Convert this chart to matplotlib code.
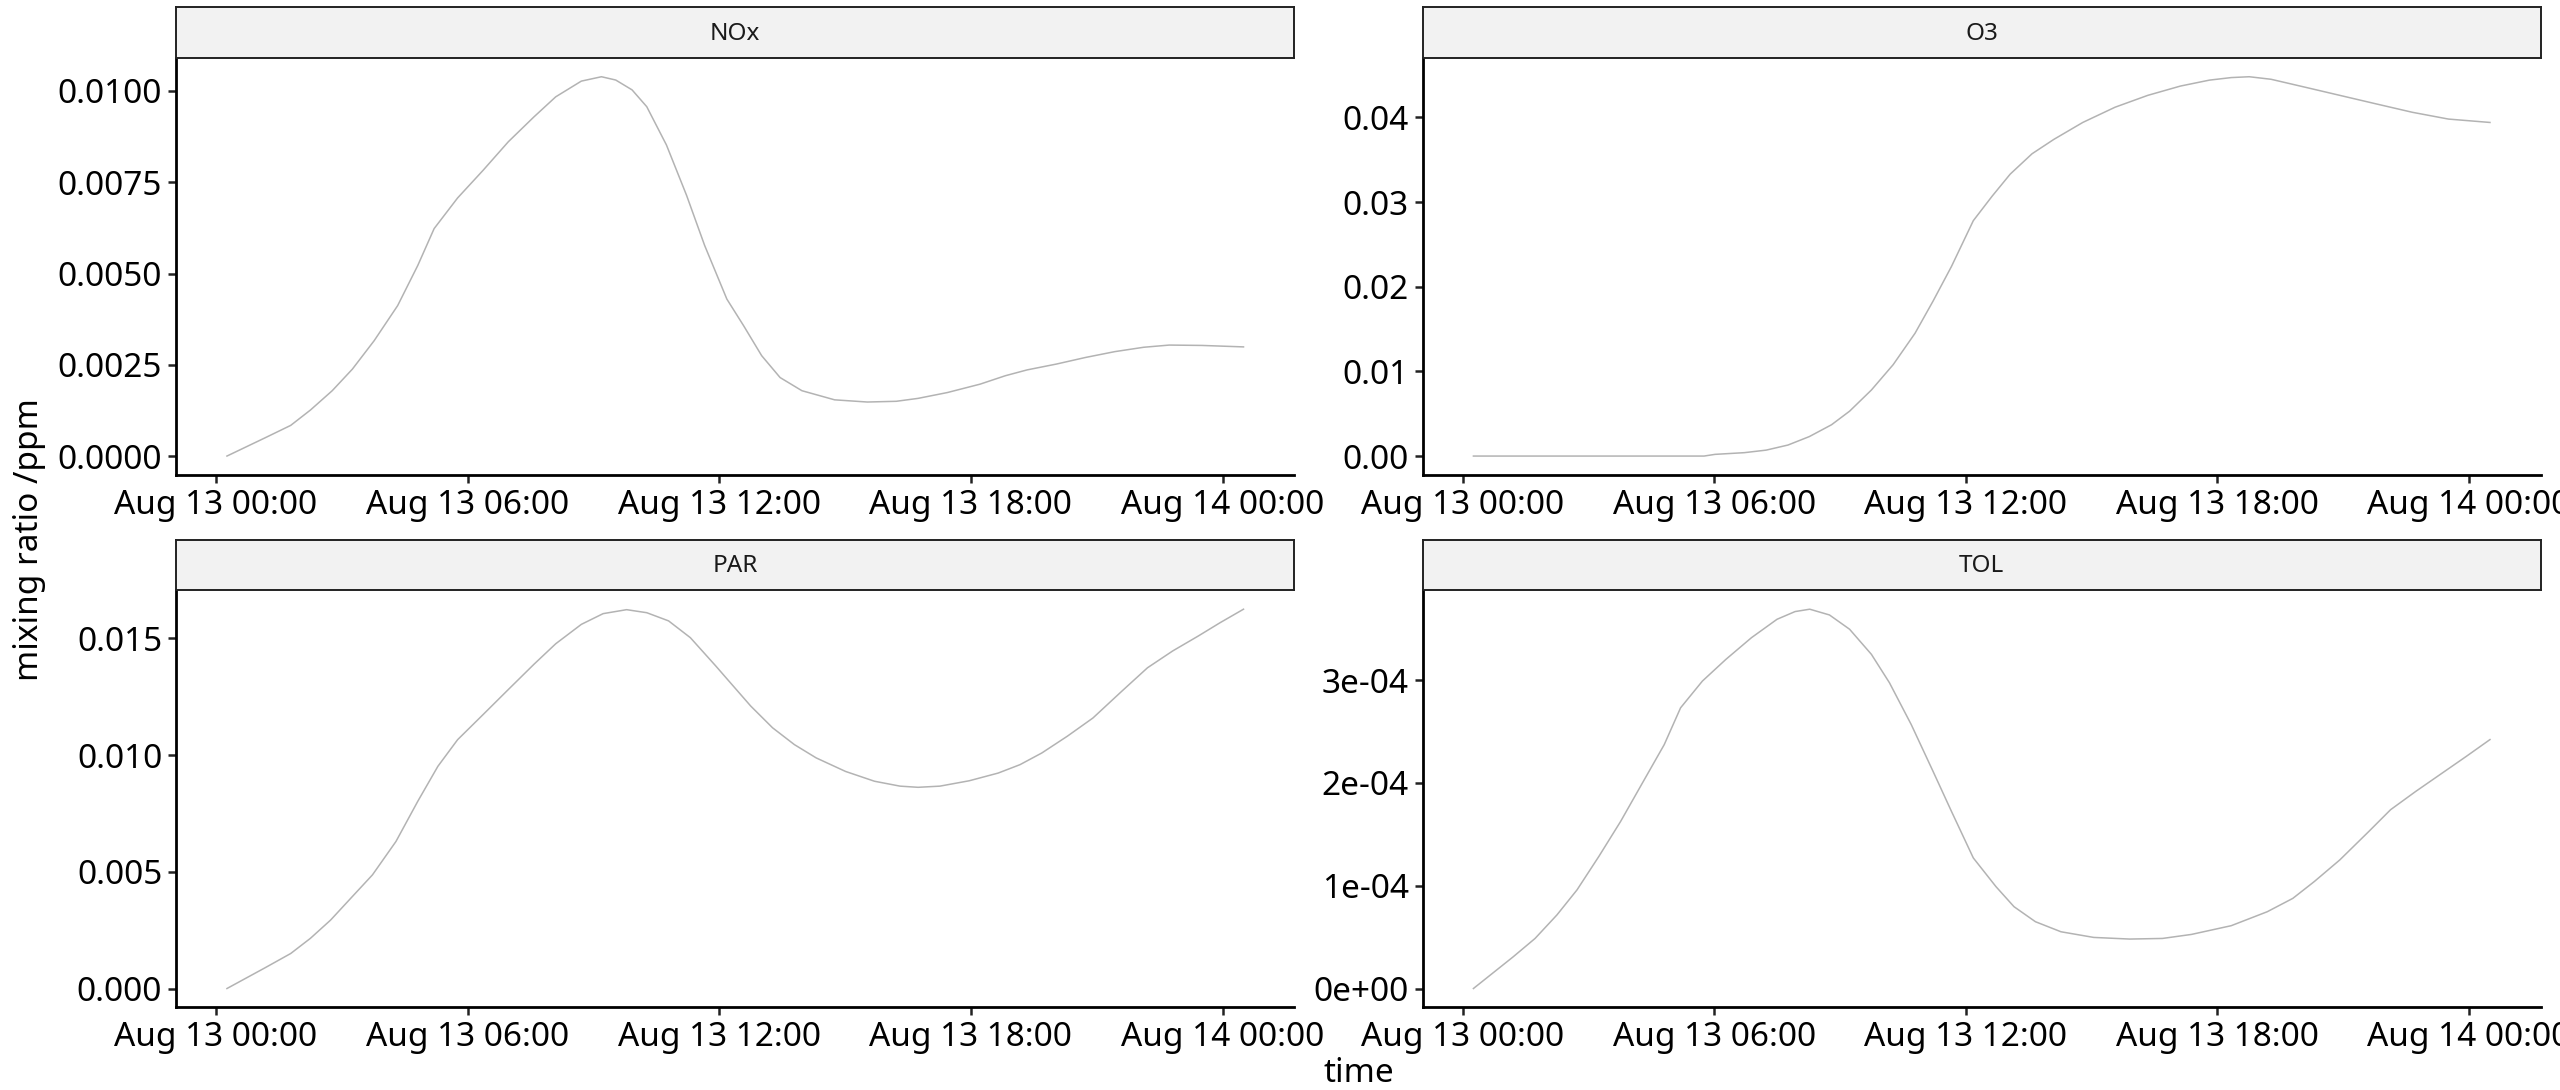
import numpy as np
import pandas as pd
import matplotlib
matplotlib.use("Agg")
import matplotlib.pyplot as plt
import matplotlib.dates as mdates
from matplotlib.ticker import FixedLocator, FixedFormatter

plt.rcParams['font.family'] = ['Noto Sans', 'DejaVu Sans']

# -----------------------------------------------------------
#  data (hours after Aug 13 00:00, mixing ratio in ppm)
# -----------------------------------------------------------
nox_hours = [0.26, 1.17, 1.78, 2.25, 2.77, 3.25, 3.77, 4.33, 4.81, 5.20, 5.76, 6.37, 6.97,
             7.58, 8.10, 8.71, 9.19, 9.53, 9.92, 10.27, 10.74, 11.22, 11.65, 12.18, 12.58,
             13.01, 13.45, 13.97, 14.75, 15.53, 16.22, 16.74, 17.44, 18.22, 18.82, 19.34,
             20.04, 20.73, 21.43, 22.12, 22.73, 23.51, 24.50]
nox_vals = [0.0, 0.00050, 0.00084, 0.00126, 0.00179, 0.00238, 0.00316, 0.00412, 0.00522,
            0.00623, 0.00707, 0.00783, 0.00861, 0.00929, 0.00984, 0.01027, 0.01039, 0.01030,
            0.01003, 0.00957, 0.00852, 0.00714, 0.00577, 0.00430, 0.00357, 0.00275, 0.00215,
            0.00179, 0.00154, 0.00148, 0.00150, 0.00158, 0.00174, 0.00197, 0.00220, 0.00236,
            0.00252, 0.00270, 0.00286, 0.00298, 0.00304, 0.00303, 0.00299]

o3_hours = [0.26, 3.25, 5.76, 6.02, 6.72, 7.24, 7.76, 8.27, 8.80, 9.23, 9.75, 10.27, 10.79,
            11.22, 11.66, 12.18, 12.63, 13.06, 13.58, 14.10, 14.79, 15.56, 16.34, 17.12,
            17.81, 18.33, 18.76, 19.28, 20.06, 20.92, 21.78, 22.65, 23.51, 24.50]
o3_vals = [0.0, 0.0, 0.0, 0.0002, 0.0004, 0.0007, 0.0013, 0.0023, 0.0037, 0.0053, 0.0078,
           0.0108, 0.0145, 0.0183, 0.0224, 0.0278, 0.0307, 0.0333, 0.0357, 0.0374, 0.0394,
           0.0412, 0.0426, 0.0437, 0.0444, 0.0447, 0.0448, 0.0445, 0.0436, 0.0426, 0.0416,
           0.0406, 0.0398, 0.0394]

par_hours = [0.26, 1.17, 1.78, 2.25, 2.73, 3.25, 3.73, 4.29, 4.81, 5.29, 5.76, 6.37, 6.97,
             7.58, 8.10, 8.71, 9.23, 9.79, 10.27, 10.79, 11.31, 11.92, 12.23, 12.75, 13.27,
             13.79, 14.31, 15.01, 15.70, 16.31, 16.74, 17.26, 17.96, 18.65, 19.17, 19.69,
             20.30, 20.91, 21.60, 22.21, 22.81, 23.42, 23.94, 24.50]
par_vals = [0.0, 0.00089, 0.00150, 0.00215, 0.00293, 0.00394, 0.00487, 0.00630, 0.00802,
            0.00952, 0.01066, 0.01174, 0.01281, 0.01389, 0.01477, 0.01560, 0.01606, 0.01623,
            0.01610, 0.01575, 0.01503, 0.01381, 0.01317, 0.01210, 0.01117, 0.01045, 0.00988,
            0.00930, 0.00888, 0.00867, 0.00862, 0.00867, 0.00890, 0.00923, 0.00959, 0.01009,
            0.01081, 0.01159, 0.01274, 0.01374, 0.01446, 0.01510, 0.01567, 0.01625]

tol_hours = [0.26, 1.21, 1.73, 2.25, 2.73, 3.25, 3.77, 4.29, 4.81, 5.20, 5.72, 6.28, 6.89,
             7.50, 7.93, 8.28, 8.75, 9.23, 9.75, 10.18, 10.70, 11.22, 11.66, 12.18, 12.72,
             13.15, 13.66, 14.27, 15.05, 15.91, 16.69, 17.38, 18.33, 19.19, 19.80, 20.31,
             20.92, 21.61, 22.13, 22.73, 23.42, 23.94, 24.50]
tol_vals = [0.0, 0.309e-4, 0.487e-4, 0.715e-4, 0.959e-4, 1.284e-4, 1.625e-4, 1.999e-4,
            2.372e-4, 2.730e-4, 2.990e-4, 3.201e-4, 3.412e-4, 3.591e-4, 3.666e-4, 3.689e-4,
            3.633e-4, 3.494e-4, 3.250e-4, 2.974e-4, 2.567e-4, 2.112e-4, 1.722e-4, 1.270e-4,
            0.991e-4, 0.796e-4, 0.650e-4, 0.552e-4, 0.497e-4, 0.481e-4, 0.487e-4, 0.526e-4,
            0.611e-4, 0.747e-4, 0.877e-4, 1.040e-4, 1.251e-4, 1.527e-4, 1.739e-4, 1.917e-4,
            2.112e-4, 2.259e-4, 2.421e-4]

panel_names = ["NOx", "O3", "PAR", "TOL"]
panel_hours = [nox_hours, o3_hours, par_hours, tol_hours]
panel_vals = [nox_vals, o3_vals, par_vals, tol_vals]

ytick_vals = [[0.0, 0.0025, 0.005, 0.0075, 0.01],
              [0.0, 0.01, 0.02, 0.03, 0.04],
              [0.0, 0.005, 0.01, 0.015],
              [0.0, 1e-4, 2e-4, 3e-4]]
ytick_labels = [["0.0000", "0.0025", "0.0050", "0.0075", "0.0100"],
                ["0.00", "0.01", "0.02", "0.03", "0.04"],
                ["0.000", "0.005", "0.010", "0.015"],
                ["0e+00", "1e-04", "2e-04", "3e-04"]]

start = pd.Timestamp("2024-08-13 00:00")

# -----------------------------------------------------------
#  figure
# -----------------------------------------------------------
fig = plt.figure(figsize=(25.6, 10.9), dpi=100)

# panel positions in figure fraction (left, bottom, width, height)
lefts = [0.0688, 0.5557, 0.0688, 0.5557]
bottoms = [0.5642, 0.5642, 0.0757, 0.0757]
width = 0.4368
height = 0.3828
strip_h = 0.0465

for i in range(4):
    ax = fig.add_axes([lefts[i], bottoms[i], width, height])
    t = start + pd.to_timedelta(panel_hours[i], unit="h")
    ax.plot(t, panel_vals[i], color="#b3b3b3", linewidth=1.1)
    ax.margins(x=0.05, y=0.05)

    ax.spines["top"].set_visible(False)
    ax.spines["right"].set_visible(False)
    ax.spines["left"].set_linewidth(2.0)
    ax.spines["bottom"].set_linewidth(2.0)

    ax.xaxis.set_major_locator(mdates.HourLocator(byhour=[0, 6, 12, 18]))
    ax.xaxis.set_major_formatter(mdates.DateFormatter("%b %d %H:%M"))
    ax.yaxis.set_major_locator(FixedLocator(ytick_vals[i]))
    ax.yaxis.set_major_formatter(FixedFormatter(ytick_labels[i]))
    ax.tick_params(axis="both", labelsize=24, length=6, width=1.8, pad=4,
                   colors="#222222", labelcolor="black")

    # strip on top of the panel
    sax = fig.add_axes([lefts[i], bottoms[i] + height, width, strip_h])
    sax.set_facecolor("#f2f2f2")
    sax.set_xticks([])
    sax.set_yticks([])
    for sp in sax.spines.values():
        sp.set_linewidth(1.4)
        sp.set_color("#222222")
    sax.text(0.5, 0.47, panel_names[i], ha="center", va="center", fontsize=17.5,
             color="#1a1a1a", transform=sax.transAxes)

fig.text(0.531, 0.015, "time", ha="center", va="center", fontsize=24)
fig.text(0.0115, 0.505, "mixing ratio /ppm", ha="center", va="center", fontsize=24,
         rotation=90)

plt.savefig("out.png", dpi=100)
